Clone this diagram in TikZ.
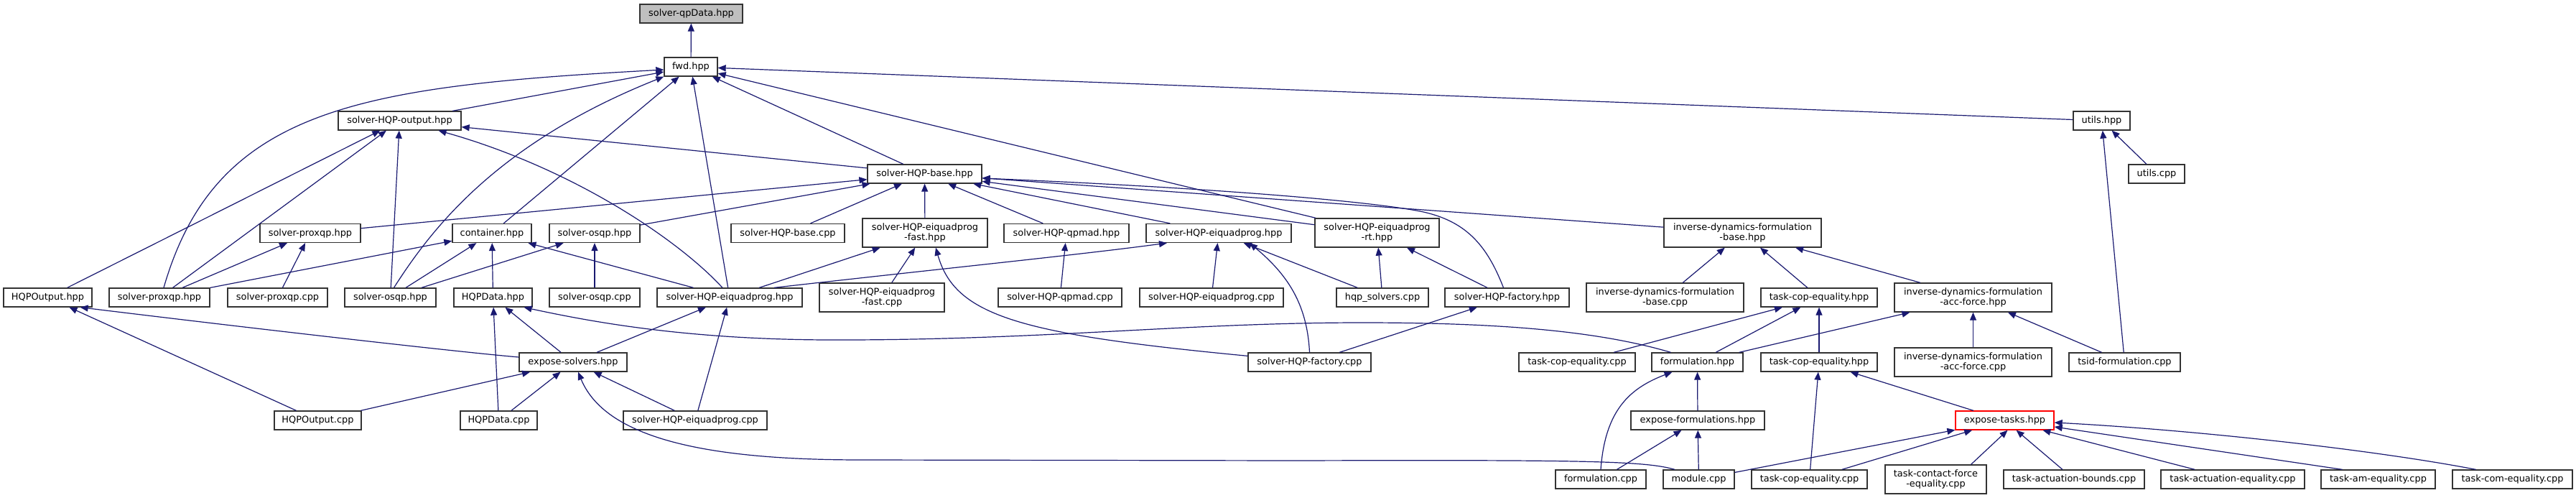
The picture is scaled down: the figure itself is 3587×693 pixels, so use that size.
\documentclass[tikz,border=0pt]{standalone}
\usepackage{fontspec}
\setmainfont{DejaVu Sans}
\usetikzlibrary{arrows.meta}
\definecolor{edgecol}{RGB}{25,25,112}
\newcommand\nodefont{\fontsize{12.9bp}{14.7bp}\selectfont}
\begin{document}
\begin{tikzpicture}[x=1bp,y=-1bp,
  box/.style={draw=black!80, fill=white, line width=1.3bp, inner sep=0pt, minimum height=26bp, align=center, font=\nodefont},
  boxtwo/.style={box, minimum height=40bp},
  e/.style={draw=edgecol, line width=1.2bp, -{Triangle[length=11bp,width=9bp]}}]
\fill[white] (0,0) rectangle (3587,693);
\useasboundingbox (0,0) rectangle (3587,693);
% row 0-3
\node[box, minimum width=143bp, fill=black!25] (qpdata) at (962.5,19) {solver-qpData.hpp};
\node[box, minimum width=74bp] (fwd) at (962,93) {fwd.hpp};
\node[box, minimum width=171bp] (output) at (556.5,168) {solver-HQP-output.hpp};
\node[box, minimum width=79bp] (utils) at (2926.5,168) {utils.hpp};
\node[box, minimum width=159bp] (base) at (1287.5,242) {solver-HQP-base.hpp};
\node[box, minimum width=78bp] (utilscpp) at (3003,242) {utils.cpp};
% row 4
\node[box, minimum width=140bp] (proxqpA) at (432,324.5) {solver-proxqp.hpp};
\node[box, minimum width=110bp] (container) at (685,324.5) {container.hpp};
\node[box, minimum width=126bp] (osqpA) at (828,324.5) {solver-osqp.hpp};
\node[box, minimum width=158bp] (basecpp) at (1097,324.5) {solver-HQP-base.cpp};
\node[boxtwo, minimum width=174bp] (fastH) at (1288,324) {solver-HQP-eiquadprog\\-fast.hpp};
\node[box, minimum width=174bp] (qpmadH) at (1485,324.5) {solver-HQP-qpmad.hpp};
\node[box, minimum width=202bp] (eiqA) at (1697,324.5) {solver-HQP-eiquadprog.hpp};
\node[boxtwo, minimum width=173bp] (rt) at (1917.5,324) {solver-HQP-eiquadprog\\-rt.hpp};
\node[boxtwo, minimum width=219bp] (idfbase) at (2426.5,324) {inverse-dynamics-formulation\\-base.hpp};
% row 5
\node[box, minimum width=123bp] (HQPOutputH) at (66.5,414) {HQPOutput.hpp};
\node[box, minimum width=140bp] (proxqpB) at (222,414) {solver-proxqp.hpp};
\node[box, minimum width=139bp] (proxqpcpp) at (386.5,414) {solver-proxqp.cpp};
\node[box, minimum width=127bp] (osqpB) at (543.5,414) {solver-osqp.hpp};
\node[box, minimum width=109bp] (HQPDataH) at (686.5,414) {HQPData.hpp};
\node[box, minimum width=126bp] (osqpcpp) at (828,414) {solver-osqp.cpp};
\node[box, minimum width=202bp] (eiqB) at (1016,414) {solver-HQP-eiquadprog.hpp};
\node[boxtwo, minimum width=174bp] (fastcpp) at (1228,414) {solver-HQP-eiquadprog\\-fast.cpp};
\node[box, minimum width=172bp] (qpmadcpp) at (1476,414) {solver-HQP-qpmad.cpp};
\node[box, minimum width=200bp] (eiqcppA) at (1687,414) {solver-HQP-eiquadprog.cpp};
\node[box, minimum width=128bp] (hqpsolvers) at (1925,414) {hqp\_solvers.cpp};
\node[box, minimum width=173bp] (factoryH) at (2098.5,414) {solver-HQP-factory.hpp};
\node[boxtwo, minimum width=219bp] (idfbasecpp) at (2318.5,414) {inverse-dynamics-formulation\\-base.cpp};
\node[box, minimum width=162bp] (tceA) at (2533,414) {task-cop-equality.hpp};
\node[boxtwo, minimum width=219bp] (idfacc) at (2747.5,414) {inverse-dynamics-formulation\\-acc-force.hpp};
% row 6
\node[box, minimum width=150bp] (exposeSolvers) at (798,504) {expose-solvers.hpp};
\node[box, minimum width=171bp] (factorycpp) at (1823.5,504) {solver-HQP-factory.cpp};
\node[box, minimum width=162bp] (tcecppA) at (2196,504) {task-cop-equality.cpp};
\node[box, minimum width=127bp] (formulationH) at (2363.5,504) {formulation.hpp};
\node[box, minimum width=162bp] (tceB) at (2533,504) {task-cop-equality.hpp};
\node[boxtwo, minimum width=219bp] (idfacccpp) at (2747.5,504) {inverse-dynamics-formulation\\-acc-force.cpp};
\node[box, minimum width=155bp] (tsid) at (2958.5,504) {tsid-formulation.cpp};
% row 7
\node[box, minimum width=121bp] (HQPOutputcpp) at (442.5,585) {HQPOutput.cpp};
\node[box, minimum width=107bp] (HQPDatacpp) at (694.5,585) {HQPData.cpp};
\node[box, minimum width=200bp] (eiqcppB) at (968,585) {solver-HQP-eiquadprog.cpp};
\node[box, minimum width=186bp] (exposeForm) at (2364,585) {expose-formulations.hpp};
\node[box, minimum width=137bp, draw=red] (exposeTasks) at (2791.5,585) {expose-tasks.hpp};
% row 8
\node[box, minimum width=126bp] (formulationcpp) at (2229,667) {formulation.cpp};
\node[box, minimum width=99bp] (module) at (2365.5,667) {module.cpp};
\node[box, minimum width=161bp] (tcecppB) at (2519.5,667) {task-cop-equality.cpp};
\node[boxtwo, minimum width=141bp] (contact) at (2695.5,667) {task-contact-force\\-equality.cpp};
\node[box, minimum width=196bp] (actbounds) at (2888,667) {task-actuation-bounds.cpp};
\node[box, minimum width=200bp] (acteq) at (3109,667) {task-actuation-equality.cpp};
\node[box, minimum width=159bp] (ameq) at (3311.5,667) {task-am-equality.cpp};
\node[box, minimum width=167bp] (comeq) at (3498.5,667) {task-com-equality.cpp};

% edges into fwd / qpData
\draw[e] (fwd) -- (qpdata);
\draw[e] (output) -- (fwd);
\draw[e] (utils) -- (fwd);
\draw[e] ([xshift=6bp]proxqpB.north) .. controls (300,150) and (500,120) .. ([yshift=-4bp]fwd.west);
\draw[e] (container) -- (fwd);
\draw[e] ([xshift=5bp]osqpB.north) .. controls (600,320) and (690,200) .. (fwd.south west);
\draw[e] (eiqB) -- (fwd);
\draw[e] (base) -- (fwd);
\draw[e] (rt) -- (fwd);
% into output
\draw[e] (HQPOutputH) -- (output);
\draw[e] (proxqpB) -- (output);
\draw[e] (osqpB) -- (output);
\draw[e] ([xshift=-10bp]eiqB.north) .. controls (946,335) and (800,235) .. ([xshift=54bp]output.south);
\draw[e] (base) -- (output);
% into base
\draw[e] (proxqpA) -- (base);
\draw[e] (osqpA) -- (base);
\draw[e] (basecpp) -- (base);
\draw[e] (fastH) -- (base);
\draw[e] (qpmadH) -- (base);
\draw[e] (eiqA) -- (base);
\draw[e] (rt) -- (base);
\draw[e] (idfbase) -- (base);
\draw[e] ([xshift=-5bp]factoryH.north) .. controls (2070,340) and (2040,305) .. (1972,293) .. controls (1900,280) and (1700,262) .. ([yshift=-6bp]base.east);
% into container
\draw[e] (proxqpB) -- (container);
\draw[e] (osqpB) -- (container);
\draw[e] (HQPDataH) -- (container);
\draw[e] (eiqB) -- (container);
% into osqpA / proxqpA
\draw[e] (osqpB) -- (osqpA);
\draw[e] (osqpcpp) -- (osqpA);
\draw[e] (proxqpB) -- (proxqpA);
\draw[e] (proxqpcpp) -- (proxqpA);
% into HQPOutputH
\draw[e] (HQPOutputcpp) -- (HQPOutputH);
\draw[e] ([yshift=7bp]exposeSolvers.west) .. controls (640,490) and (360,458) .. ([xshift=-17bp]HQPOutputH.south east);
% into exposeSolvers
\draw[e] (HQPOutputcpp) -- (exposeSolvers);
\draw[e] (HQPDatacpp) -- (exposeSolvers);
\draw[e] ([xshift=-33.5bp]module.north) .. controls (2290,641) and (2200,640) .. (1800,641) -- (1200,640) .. controls (1000,640) and (845,615) .. ([xshift=7bp]exposeSolvers.south);
\draw[e] (eiqcppB) -- (exposeSolvers);
% into HQPDataH
\draw[e] (exposeSolvers) -- (HQPDataH);
\draw[e] (HQPDatacpp) -- (HQPDataH);
\draw[e] ([xshift=-37bp]formulationH.north) .. controls (2230,462) and (2100,449) .. (1896,449) .. controls (1650,449) and (1450,474) .. (1150,473) .. controls (950,472) and (820,447) .. ([xshift=43bp]HQPDataH.south);
% into eiqB
\draw[e] (exposeSolvers) -- (eiqB);
\draw[e] (eiqcppB) -- (eiqB);
% into eiqA
\draw[e] ([xshift=62bp]eiqB.north) .. controls (1300,375) and (1500,355) .. ([xshift=-72bp]eiqA.south);
\draw[e] (eiqcppA) -- (eiqA);
\draw[e] (hqpsolvers) -- (eiqA);
\draw[e] (factorycpp.north) .. controls (1820,420) and (1790,380) .. ([xshift=43bp]eiqA.south);
% into fastH
\draw[e] (eiqB) -- (fastH);
\draw[e] (fastcpp) -- (fastH);
\draw[e] ([yshift=-5bp]factorycpp.north west) .. controls (1420,465) and (1330,440) .. ([xshift=15bp]fastH.south);
% into qpmadH
\draw[e] (qpmadcpp) -- (qpmadH);
% into rt
\draw[e] (hqpsolvers) -- (rt);
\draw[e] (factoryH) -- (rt);
% into factoryH
\draw[e] (factorycpp) -- (factoryH);
% into idfbase
\draw[e] (idfbasecpp) -- (idfbase);
\draw[e] (tceA) -- (idfbase);
\draw[e] (idfacc) -- (idfbase);
% into tceA
\draw[e] (tcecppA) -- (tceA);
\draw[e] (formulationH) -- (tceA);
\draw[e] (tceB) -- (tceA);
% into idfacc
\draw[e] (formulationH) -- (idfacc);
\draw[e] (idfacccpp) -- (idfacc);
\draw[e] (tsid) -- (idfacc);
% into utils
\draw[e] (tsid) -- (utils);
\draw[e] (utilscpp) -- (utils);
% into formulationH
\draw[e] (formulationcpp.north) .. controls (2235,570) and (2270,540) .. ([xshift=-35bp]formulationH.south);
\draw[e] (exposeForm) -- (formulationH);
% into exposeForm
\draw[e] (formulationcpp) -- (exposeForm);
\draw[e] (module) -- (exposeForm);
% into tceB
\draw[e] (exposeTasks) -- (tceB);
\draw[e] (tcecppB) -- (tceB);
% into exposeTasks
\draw[e] (module) -- (exposeTasks);
\draw[e] (tcecppB) -- (exposeTasks);
\draw[e] ([xshift=49bp]contact.north) -- ([xshift=4bp]exposeTasks.south);
\draw[e] (actbounds) -- (exposeTasks);
\draw[e] (acteq) -- (exposeTasks);
\draw[e] ([xshift=-50bp]ameq.north) -- ([yshift=-9bp]exposeTasks.east);
\draw[e] ([xshift=-51bp]comeq.north) .. controls (3300,625) and (3050,598) .. ([yshift=-3bp]exposeTasks.east);
\end{tikzpicture}
\end{document}
